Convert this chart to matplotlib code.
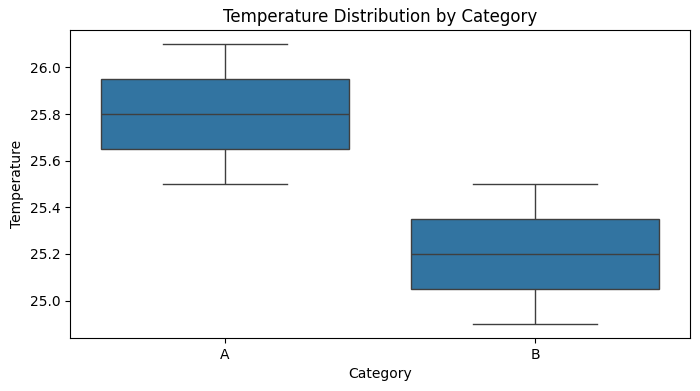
import matplotlib
matplotlib.use("Agg")
import matplotlib.pyplot as plt
import pandas as pd
import seaborn as sns

categories = ["A", "A", "A", "B", "B", "B"]
temperatures = [25.5, 25.8, 26.1, 24.9, 25.2, 25.5]

df = pd.DataFrame({"Category": categories, "Temperature": temperatures})

fig, ax = plt.subplots(figsize=(7, 3.91), dpi=100)
sns.boxplot(data=df, x="Category", y="Temperature", ax=ax)
ax.set_title("Temperature Distribution by Category")
fig.subplots_adjust(left=0.1, right=0.986, top=0.923, bottom=0.136)
fig.savefig("out.png", dpi=100)
